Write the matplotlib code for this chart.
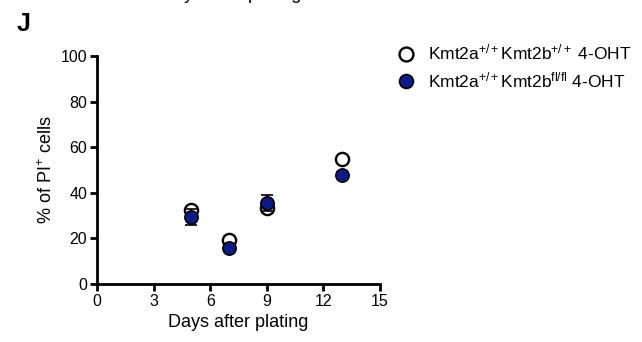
import matplotlib
matplotlib.use("Agg")
import matplotlib.pyplot as plt
from matplotlib.lines import Line2D

plt.rcParams['font.family'] = ['Liberation Sans', 'DejaVu Sans']
plt.rcParams['mathtext.fontset'] = 'custom'
plt.rcParams['mathtext.rm'] = 'Liberation Sans'
plt.rcParams['mathtext.it'] = 'Liberation Sans'

days = [5, 7, 9, 13]
wt_values = [32.3, 19.5, 33.5, 54.9]
wt_err = [1.0, 1.0, 1.0, 1.0]
fl_values = [29.4, 15.9, 35.5, 48.0]
fl_err = [3.5, 1.0, 3.5, 1.0]
labels = [r'Kmt2a$^{+/+}$Kmt2b$^{+/+}$ 4-OHT',
          r'Kmt2a$^{+/+}$Kmt2b$^{\mathrm{fl/fl}}$ 4-OHT']
xticks = [0, 3, 6, 9, 12, 15]
yticks = [0, 20, 40, 60, 80, 100]

navy = '#0c1a8a'

fig = plt.figure(figsize=(6.42, 3.42), dpi=100)
ax = fig.add_axes([97/642, 1-284/342, 283/642, 228/342])

ax.errorbar(days, wt_values, yerr=wt_err, fmt='o', ms=9.5, mfc='white', mec='black',
            mew=1.7, ecolor='black', elinewidth=1.5, capsize=4, capthick=1.5, zorder=3)
ax.errorbar(days, fl_values, yerr=fl_err, fmt='o', ms=9.5, mfc=navy, mec='black',
            mew=1.2, ecolor='black', elinewidth=1.5, capsize=4, capthick=1.5, zorder=4)

ax.set_xlim(0, 15)
ax.set_ylim(0, 100)
ax.set_xticks(xticks)
ax.set_yticks(yticks)
for s in ['top', 'right']:
    ax.spines[s].set_visible(False)
for s in ['left', 'bottom']:
    ax.spines[s].set_linewidth(2)
ax.tick_params(axis='both', direction='out', length=5, width=2, labelsize=11.5, pad=2)
ax.set_xlabel('Days after plating', fontsize=13, labelpad=4)
ax.set_ylabel(r'% of PI$^{+}$ cells', fontsize=13, labelpad=3)

handles = [Line2D([], [], ls='none', marker='o', ms=10, mfc='white', mec='black', mew=1.7),
           Line2D([], [], ls='none', marker='o', ms=10, mfc=navy, mec='black', mew=1.2)]
fig.legend(handles, labels, loc='upper left', bbox_to_anchor=(0.608, 0.895), frameon=False,
           fontsize=12.5, handletextpad=0.75, labelspacing=0.45, borderaxespad=0, handlelength=1.0)

fig.text(17/642, 1-31/342, 'J', fontsize=18, fontweight='bold', va='baseline')
fig.text(231/642, 1.0 + 1.5/342, 'Days after plating', fontsize=13, ha='center', va='baseline')

fig.savefig('out.png', dpi=100)
